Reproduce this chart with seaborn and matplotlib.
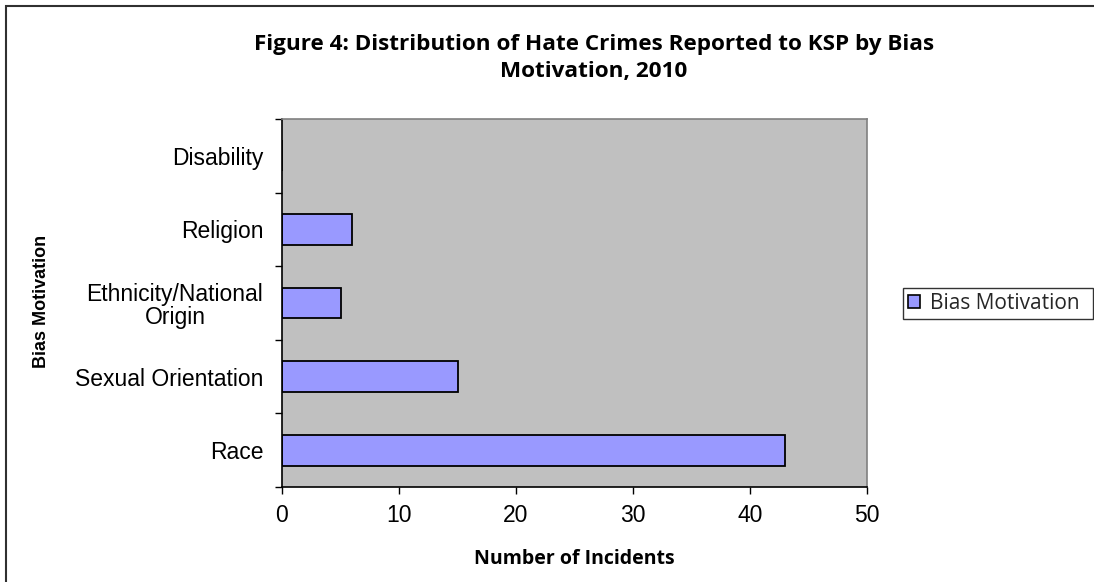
import matplotlib
matplotlib.use("Agg")
import matplotlib.pyplot as plt
from matplotlib.patches import Patch, Rectangle
import seaborn as sns
import pandas as pd

# Hate crime incidents by bias motivation (top to bottom as drawn)
motivations = ["Disability", "Religion", "Ethnicity/National\nOrigin",
               "Sexual Orientation", "Race"]
incidents = [0, 6, 5, 15, 43]
x_ticks = [0, 10, 20, 30, 40, 50]
series_name = "Bias Motivation"

title_text = "Figure 4: Distribution of Hate Crimes Reported to KSP by Bias\nMotivation, 2010"
x_title = "Number of Incidents"
y_title = "Bias Motivation"

sns.set_theme(style="white")
plt.rcParams["font.family"] = ["Liberation Sans", "DejaVu Sans"]

BAR = "#9999FF"
PLOT_BG = "#C0C0C0"
W, H = 1094, 582

fig = plt.figure(figsize=(W / 100, H / 100), dpi=100)
fig.patch.set_facecolor("white")
ax = fig.add_axes([282 / W, 1 - 487 / H, (867 - 282) / W, (487 - 119) / H])
ax.set_facecolor(PLOT_BG)

df = pd.DataFrame({"motivation": motivations, "incidents": incidents})
sns.barplot(data=df, x="incidents", y="motivation", orient="h", order=motivations,
            color=BAR, saturation=1, edgecolor="black", linewidth=1.3,
            width=0.42, ax=ax)

n = len(motivations)
ax.set_xlim(x_ticks[0], x_ticks[-1])
ax.set_ylim(n - 0.5, -0.5)

# category boundaries carry the tick marks, centres carry the names
ax.set_yticks([i - 0.5 for i in range(n + 1)])
ax.set_yticklabels([])
ax.set_yticks(range(n), minor=True)
ax.set_yticklabels(motivations, minor=True)
for lab in ax.get_yticklabels(minor=True):
    lab.set_multialignment("center")
    lab.set_linespacing(1.05)
ax.tick_params(axis="y", which="major", direction="out", length=5, width=1,
               color="black", left=True)
ax.tick_params(axis="y", which="minor", length=0, pad=13.5, labelsize=16.5,
               labelcolor="black")

ax.set_xticks(x_ticks)
ax.set_xticklabels([str(v) for v in x_ticks])
ax.tick_params(axis="x", direction="out", length=5, width=1, color="black",
               bottom=True, pad=7, labelsize=16.5, labelcolor="black")

ax.set_xlabel(x_title, fontsize=14, fontweight="bold", family="Open Sans",
              labelpad=16, color="black")
ax.set_ylabel("")
fig.text(42 / W, 1 - 301 / H, y_title, rotation=90, ha="center", va="center",
         fontsize=13, fontweight="bold", family="Liberation Sans", color="black")

for side in ("left", "bottom"):
    ax.spines[side].set_color("black")
    ax.spines[side].set_linewidth(1.2)
for side in ("top", "right"):
    ax.spines[side].set_color("#808080")
    ax.spines[side].set_linewidth(1.2)

fig.text(594 / W, 1 - 58 / H, title_text, ha="center", va="center",
         fontsize=16.2, fontweight="bold", family="Open Sans", linespacing=1.4,
         color="black")

leg = fig.legend(handles=[Patch(facecolor=BAR, edgecolor="black", linewidth=1.2,
                                label=series_name)],
                 loc="center left",
                 bbox_to_anchor=(903 / W, 1 - 319 / H, (1093 - 903) / W, 31 / H),
                 mode="expand",
                 frameon=True, fancybox=False, edgecolor="black",
                 prop={"family": "Open Sans", "size": 15},
                 handlelength=0.55, handleheight=0.55, handletextpad=0.5,
                 borderpad=0.25, borderaxespad=0)
leg.get_frame().set_linewidth(1.0)

# chart-area frame, running off the right and bottom edges
fig.add_artist(Rectangle((6 / W, -0.05), 1.2, 1 - 6 / H + 0.05,
                         transform=fig.transFigure, fill=False,
                         edgecolor="#303030", linewidth=1.5))

fig.savefig("out.png", dpi=100, facecolor="white")
